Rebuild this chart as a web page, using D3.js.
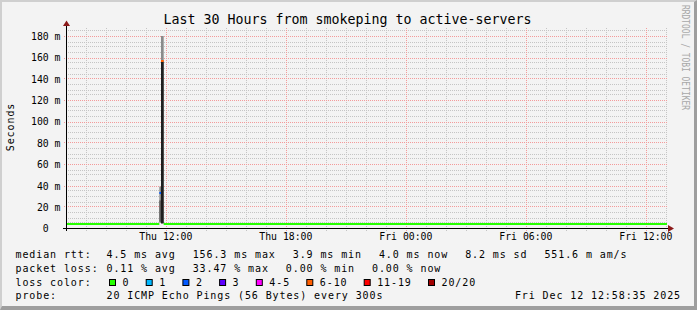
<!DOCTYPE html>
<html>
<head>
<meta charset="utf-8">
<script src="https://cdn.jsdelivr.net/npm/d3@7"></script>
<style>
  body { margin: 0; background: #fff; }
  text { font-family: "DejaVu Sans Mono", monospace; white-space: pre; }
</style>
</head>
<body>
<div id="chart"></div>
<script>
// data (values in ms)
const timeDomain = ["2025-12-11T07:05", "2025-12-12T13:05"];
const medianTimes = ["2025-12-11T07:05", "2025-12-11T11:42", "2025-12-11T11:47", "2025-12-11T11:55", "2025-12-12T13:05"];
const medianValues = [4.0, 33.0, 156.3, 4.0];
const medianLoss = [0, 2, 5, 0]; // index into lossLabels

const smokeTimes = ["2025-12-11T11:42", "2025-12-11T11:47", "2025-12-11T11:55"];
const smokeMin = [5, 4.5];
const smokeMax = [39, 180];
const coreMin = [6, 4.5];
const coreMax = [26, 156];

const yTicks = [0, 20, 40, 60, 80, 100, 120, 140, 160, 180];
const yTickLabels = ["0  ", "20 m", "40 m", "60 m", "80 m", "100 m", "120 m", "140 m", "160 m", "180 m"];
const xTickTimes = ["2025-12-11T12:00", "2025-12-11T18:00", "2025-12-12T00:00", "2025-12-12T06:00", "2025-12-12T12:00"];
const xTickLabels = ["Thu 12:00", "Thu 18:00", "Fri 00:00", "Fri 06:00", "Fri 12:00"];

const lossLabels = ["0", "1", "2", "3", "4-5", "6-10", "11-19", "20/20"];
const lossColors = ["#26ff00", "#00b8ff", "#0059ff", "#5e00ff", "#ff00fe", "#ff5e00", "#ff0000", "#a10000"];

const rttStats = ["4.5 ms avg", "156.3 ms max", "3.9 ms min", "4.0 ms now", "8.2 ms sd", "551.6 m am/s"];
const lossStats = ["0.11 % avg", "33.47 % max", "0.00 % min", "0.00 % now"];
const probeText = "20 ICMP Echo Pings (56 Bytes) every 300s";
const stampText = "Fri Dec 12 12:58:35 2025";

const W = 697, H = 310;
const parse = d3.isoParse;

const svg = d3.select("#chart").append("svg")
    .attr("width", W).attr("height", H);

// dotted line patterns (1px on, 1px off)
const defs = svg.append("defs");
const dots = (id, w, h, color) => defs.append("pattern")
    .attr("id", id).attr("patternUnits", "userSpaceOnUse")
    .attr("width", w).attr("height", h)
    .append("rect").attr("width", 1).attr("height", 1).attr("fill", color);
dots("hMin", 2, 1, "#c4c4c4");
dots("vMin", 1, 2, "#c4c4c4");
dots("hMaj", 2, 1, "#f39a9a");
dots("vMaj", 1, 2, "#f39a9a");

// frame with rrdtool style shading
svg.append("rect").attr("width", W).attr("height", H).attr("fill", "#9e9e9e");
svg.append("path").attr("d", `M0,0H${W}L${W - 3},2H2V${H - 4}L0,${H}Z`).attr("fill", "#cfcfcf");
svg.append("rect").attr("x", 2).attr("y", 2).attr("width", W - 5).attr("height", H - 6).attr("fill", "#f3f3f3");

const x = d3.scaleTime().domain(timeDomain.map(parse)).range([67, 667]);
const y = d3.scaleLinear().domain([0, 187.5]).range([228.2, 28]);
// grid snapped to whole (even) pixels
const px = v => 2 * Math.round(x(v) / 2);
const py = v => 2 * Math.round(y(v) / 2);

// grid
const grid = svg.append("g").attr("shape-rendering", "crispEdges");
const hours = d3.timeHour.every(1).range(x.domain()[0], x.domain()[1]);
const vMinor = hours.filter(h => h.getHours() % 6 !== 0);
const vMajor = hours.filter(h => h.getHours() % 6 === 0);
const hMinor = d3.range(5, 187.5, 5).filter(v => v % 20 !== 0);

grid.selectAll("rect.vminor").data(vMinor).enter()
    .append("rect").attr("class", "vminor")
    .attr("x", d => px(d)).attr("width", 1)
    .attr("y", 28).attr("height", 203)
    .attr("fill", "url(#vMin)");
grid.selectAll("rect.hminor").data(hMinor).enter()
    .append("rect").attr("class", "hminor")
    .attr("x", 65).attr("width", 602)
    .attr("y", d => py(d)).attr("height", 1)
    .attr("fill", "url(#hMin)");
grid.selectAll("rect.vmajor").data(vMajor).enter()
    .append("rect").attr("class", "vmajor")
    .attr("x", d => px(d)).attr("width", 1)
    .attr("y", 28).attr("height", 204)
    .attr("fill", "url(#vMaj)");
grid.selectAll("rect.hmajor").data(yTicks.slice(1)).enter()
    .append("rect").attr("class", "hmajor")
    .attr("x", 64).attr("width", 603)
    .attr("y", d => py(d)).attr("height", 1)
    .attr("fill", "url(#hMaj)");

// smoke
const smoke = svg.append("g");
smokeMin.forEach((v, i) => {
    const a = parse(smokeTimes[i]), b = parse(smokeTimes[i + 1]);
    smoke.append("rect")
        .attr("x", x(a)).attr("width", x(b) - x(a))
        .attr("y", y(smokeMax[i])).attr("height", y(v) - y(smokeMax[i]))
        .attr("fill", "#8a8a8a");
    smoke.append("rect")
        .attr("x", x(a)).attr("width", x(b) - x(a))
        .attr("y", y(coreMax[i])).attr("height", y(coreMin[i]) - y(coreMax[i]))
        .attr("fill", i === 0 ? "#5a5a5a" : "#1e1e1e");
});

// median, coloured by loss
medianValues.forEach((v, i) => {
    const a = parse(medianTimes[i]), b = parse(medianTimes[i + 1]);
    svg.append("line")
        .attr("x1", x(a)).attr("x2", x(b))
        .attr("y1", Math.round(y(v))).attr("y2", Math.round(y(v)))
        .attr("stroke", lossColors[medianLoss[i]])
        .attr("stroke-width", 2);
});

// axes
svg.append("line").attr("x1", 63).attr("x2", 669).attr("y1", 228.5).attr("y2", 228.5).attr("stroke", "#000");
svg.append("line").attr("x1", 66.5).attr("x2", 66.5).attr("y1", 24).attr("y2", 231).attr("stroke", "#000");
svg.append("path").attr("d", "M66.5,20.5L70,26L63,26Z").attr("fill", "#8b1a1a");
svg.append("path").attr("d", "M674,228.5L668,225L668,232Z").attr("fill", "#8b1a1a");

const xAxis = d3.axisBottom(x)
    .tickValues(xTickTimes.map(parse))
    .tickFormat((d, i) => xTickLabels[i])
    .tickSize(0).tickPadding(0);
svg.append("g").attr("transform", "translate(0,231)").call(xAxis)
    .call(g => g.select(".domain").remove())
    .selectAll("text")
    .attr("font-family", "DejaVu Sans Mono").attr("font-size", "9.8px")
    .attr("fill", "#000").attr("dy", "0.95em");

const yAxis = d3.axisLeft(y)
    .tickValues(yTicks)
    .tickFormat((d, i) => yTickLabels[i])
    .tickSize(0).tickPadding(0);
svg.append("g").attr("transform", "translate(60.5,0)").call(yAxis)
    .call(g => g.select(".domain").remove())
    .selectAll("text")
    .attr("font-family", "DejaVu Sans Mono").attr("font-size", "9.8px")
    .attr("fill", "#000").attr("dy", "0.36em");

// titles
svg.append("text").attr("x", 347.5).attr("y", 24)
    .attr("text-anchor", "middle").attr("font-size", "13.3px").attr("fill", "#000")
    .text("Last 30 Hours from smokeping to active-servers");
svg.append("text").attr("transform", "translate(14,127) rotate(-90)")
    .attr("text-anchor", "middle").attr("font-size", "10px").attr("letter-spacing", "0.9px")
    .attr("fill", "#000").text("Seconds");
svg.append("text").attr("transform", "translate(681.5,5) rotate(90)")
    .attr("font-size", "11px").attr("fill", "#a8a8a8")
    .attr("textLength", 105).attr("lengthAdjust", "spacingAndGlyphs")
    .text("RRDTOOL / TOBI OETIKER");

// legend: items follow each other with a fixed gap, like rrdtool does
const CH = 6.92, GAP = 17;
const leg = svg.append("g").attr("font-size", "10px").attr("letter-spacing", "0.9px").attr("fill", "#000");
const put = (xx, yy, s) => leg.append("text").attr("x", xx).attr("y", yy).text(s);
const putRow = (yy, items) => {
    let xx = 106.5;
    items.forEach(s => { put(xx, yy, s); xx += s.length * CH + GAP; });
};
const rows = [258.3, 272, 285.7, 299.4];
put(15.5, rows[0], "median rtt:");
putRow(rows[0], rttStats);
put(15.5, rows[1], "packet loss:");
putRow(rows[1], lossStats);
put(15.5, rows[2], "loss color:");
let bx = 109;
lossLabels.forEach((lab, i) => {
    leg.append("rect").attr("x", bx + 0.5).attr("y", 279.5).attr("width", 6).attr("height", 6)
        .attr("fill", lossColors[i]).attr("stroke", "#000");
    put(bx + 13.5, rows[2], lab);
    bx += 14 + lab.length * 6.9 + 15.8;
});
put(15.5, rows[3], "probe:");
put(106.5, rows[3], probeText);
leg.append("text").attr("x", 681).attr("y", rows[3]).attr("text-anchor", "end").text(stampText);
</script>
</body>
</html>
